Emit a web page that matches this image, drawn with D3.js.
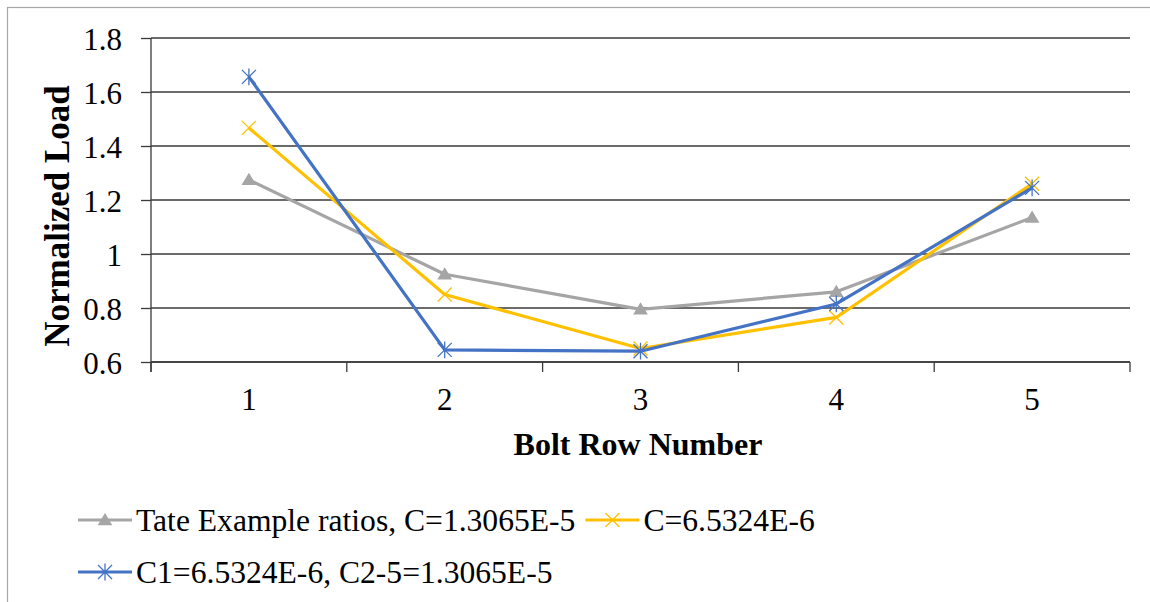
<!DOCTYPE html>
<html>
<head>
<meta charset="utf-8">
<script src="https://cdn.jsdelivr.net/npm/d3@7"></script>
<style>
  html, body { margin: 0; padding: 0; background: #fff; }
  svg { display: block; }
</style>
</head>
<body>
<svg id="chart" width="1150" height="602"></svg>
<script>
// Bolt rows along the x axis
const rows = [1, 2, 3, 4, 5];
const yTicks = [0.6, 0.8, 1.0, 1.2, 1.4, 1.6, 1.8];

// Normalized load per bolt row
const tate = [1.275, 0.925, 0.795, 0.86, 1.135];
const cHalf = [1.467, 0.85, 0.65, 0.765, 1.26];
const cMixed = [1.656, 0.645, 0.64, 0.815, 1.245];

const seriesNames = [
  "Tate Example ratios, C=1.3065E-5",
  "C=6.5324E-6",
  "C1=6.5324E-6, C2-5=1.3065E-5"
];

const FONT = "Liberation Serif";
const FS = 31;

const series = [
  { name: seriesNames[0], values: tate, color: "#A5A5A5", marker: "triangle" },
  { name: seriesNames[1], values: cHalf, color: "#FFC000", marker: "x" },
  { name: seriesNames[2], values: cMixed, color: "#4472C4", marker: "star" }
];

const svg = d3.select("#chart");

// Outer frame
svg.append("rect")
  .attr("x", 7.5).attr("y", 7.5)
  .attr("width", 1160).attr("height", 620)
  .attr("fill", "none").attr("stroke", "#A6A6A6").attr("stroke-width", 1.2);

const plot = { left: 151, right: 1130, top: 38, bottom: 362 };

const x = d3.scaleBand().domain(rows).range([plot.left, plot.right]).paddingInner(0).paddingOuter(0);
const y = d3.scaleLinear().domain([0.6, 1.8]).range([plot.bottom, plot.top]);
const cx = d => x(d) + x.bandwidth() / 2;

// Horizontal gridlines
svg.append("g")
  .selectAll("line")
  .data(yTicks)
  .join("line")
  .attr("x1", plot.left).attr("x2", plot.right)
  .attr("y1", d => y(d)).attr("y2", d => y(d))
  .attr("stroke", "#3a3a3a").attr("stroke-width", 1.3);

// Y axis
const yAxis = svg.append("g")
  .attr("transform", `translate(${plot.left},0)`)
  .call(d3.axisLeft(y).tickValues(yTicks).tickSize(10).tickPadding(19)
    .tickFormat(d => d3.format("~g")(d)));
yAxis.attr("font-family", FONT).attr("font-size", FS);
yAxis.select(".domain").attr("d", `M0,${plot.top}V${plot.bottom + 10}`).attr("stroke", "#3a3a3a").attr("stroke-width", 1.3);
yAxis.selectAll(".tick line").attr("stroke", "#3a3a3a").attr("stroke-width", 1.3);
yAxis.selectAll(".tick text").attr("fill", "#000").attr("dy", "0.38em");

// X axis with boundary ticks between categories
const xAxisG = svg.append("g").attr("transform", `translate(0,${plot.bottom})`);
xAxisG.append("line")
  .attr("x1", plot.left).attr("x2", plot.right)
  .attr("stroke", "#3a3a3a").attr("stroke-width", 1.3);
const bounds = rows.map(r => x(r)).concat([x(rows[rows.length - 1]) + x.bandwidth()]);
xAxisG.selectAll("line.tk")
  .data(bounds)
  .join("line").attr("class", "tk")
  .attr("x1", d => d).attr("x2", d => d)
  .attr("y1", 0).attr("y2", 10)
  .attr("stroke", "#3a3a3a").attr("stroke-width", 1.3);
xAxisG.selectAll("text")
  .data(rows)
  .join("text")
  .attr("x", d => cx(d)).attr("y", 48)
  .attr("text-anchor", "middle")
  .attr("font-family", FONT).attr("font-size", FS)
  .attr("fill", "#000")
  .text(d => d);

// Axis titles
svg.append("text")
  .attr("x", 638).attr("y", 455)
  .attr("text-anchor", "middle")
  .attr("font-family", FONT).attr("font-size", 32).attr("font-weight", "bold")
  .attr("fill", "#000")
  .text("Bolt Row Number");
svg.append("text")
  .attr("transform", "translate(69,216) rotate(-90)")
  .attr("text-anchor", "middle")
  .attr("font-family", FONT).attr("font-size", 35).attr("font-weight", "bold")
  .attr("fill", "#000")
  .text("Normalized Load");

// Marker drawing
function drawMarker(g, type, color, size) {
  const s = size;
  if (type === "triangle") {
    g.append("path")
      .attr("d", `M0,${-s}L${s * 1.05},${s * 0.75}L${-s * 1.05},${s * 0.75}Z`)
      .attr("fill", color);
  } else if (type === "x") {
    g.append("path")
      .attr("d", `M${-s},${-s}L${s},${s}M${-s},${s}L${s},${-s}`)
      .attr("stroke", color).attr("stroke-width", 1.3).attr("fill", "none");
  } else {
    g.append("path")
      .attr("d", `M${-s},${-s}L${s},${s}M${-s},${s}L${s},${-s}M0,${-s * 1.2}L0,${s * 1.2}`)
      .attr("stroke", color).attr("stroke-width", 1.3).attr("fill", "none");
  }
}

const line = d3.line().x((d, i) => cx(rows[i])).y(d => y(d));

series.forEach(s => {
  svg.append("path")
    .datum(s.values)
    .attr("d", line)
    .attr("fill", "none")
    .attr("stroke", s.color)
    .attr("stroke-width", 3.2)
    .attr("stroke-linejoin", "round");
  s.values.forEach((v, i) => {
    const g = svg.append("g").attr("transform", `translate(${cx(rows[i])},${y(v)})`);
    drawMarker(g, s.marker, s.color, 7);
  });
});

// Legend: first row flows left to right, second row wraps
const legendRows = [[series[0], series[1]], [series[2]]];
legendRows.forEach((items, r) => {
  let xpos = 78;
  const ypos = 520 + r * 52;
  items.forEach(s => {
    const g = svg.append("g").attr("transform", `translate(${xpos},${ypos})`);
    g.append("line").attr("x1", 0).attr("x2", 54).attr("y1", 0).attr("y2", 0)
      .attr("stroke", s.color).attr("stroke-width", 3.2);
    const m = g.append("g").attr("transform", "translate(27,0)");
    drawMarker(m, s.marker, s.color, 7);
    const t = g.append("text")
      .attr("x", 58).attr("y", 0).attr("dy", "0.34em")
      .attr("font-family", FONT).attr("font-size", 31.6)
      .attr("fill", "#000")
      .text(s.name);
    xpos += 58 + t.node().getComputedTextLength() + 10;
  });
});
</script>
</body>
</html>
